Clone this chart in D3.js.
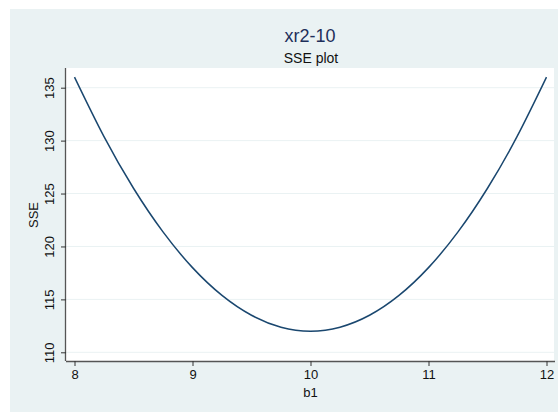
<!DOCTYPE html>
<html><head><meta charset="utf-8">
<script src="https://cdn.jsdelivr.net/npm/d3@7"></script>
<style>body{margin:0;background:#fff}svg{display:block}</style>
</head><body>
<svg id="c" width="558" height="412"></svg>
<script>
const b1 = [8, 8.25, 8.5, 8.75, 9, 9.25, 9.5, 9.75, 10, 10.25, 10.5, 10.75, 11, 11.25, 11.5, 11.75, 12];
const sse = [136, 130.375, 125.5, 121.375, 118, 115.375, 113.5, 112.375, 112, 112.375, 113.5, 115.375, 118, 121.375, 125.5, 130.375, 136];
const xTicks = [8, 9, 10, 11, 12];
const yTicks = [110, 115, 120, 125, 130, 135];
const title = "xr2-10", subtitle = "SSE plot", xTitle = "b1", yTitle = "SSE";

const svg = d3.select("#c");
svg.append("rect").attr("x", 10).attr("y", 9).attr("width", 560).attr("height", 410).attr("fill", "#EAF2F3");
const L = 66, R = 555, T = 68, B = 361;
svg.append("rect").attr("x", L).attr("y", T).attr("width", R - L).attr("height", B - T).attr("fill", "#fff");
svg.append("line").attr("x1", R - 0.5).attr("x2", R - 0.5).attr("y1", T).attr("y2", B).attr("stroke", "#EAF2F3");

const x = d3.scaleLinear().domain([8, 12]).range([74.5, 546.5]);
const y = d3.scaleLinear().domain([110, 135]).range([352.3, 87.7]);

svg.append("g").selectAll("line").data(yTicks).join("line")
  .attr("x1", L).attr("x2", R).attr("y1", d => y(d)).attr("y2", d => y(d))
  .attr("stroke", "#EAF2F3").attr("stroke-width", 1);

const font = "Arial, 'Liberation Sans', sans-serif";
const fs = 13;
const xa = svg.append("g").attr("transform", `translate(0,${B})`)
  .call(d3.axisBottom(x).tickValues(xTicks).tickSize(5).tickPadding(4).tickFormat(d3.format("d")));
xa.select(".domain").attr("d", `M${L},0.5H${R}`).attr("stroke", "#555").attr("stroke-width", 1.3);
xa.selectAll(".tick line").attr("stroke", "#333");
xa.selectAll("text").attr("font-family", font).attr("font-size", fs).attr("fill", "#111");

const ya = svg.append("g").attr("transform", `translate(${L},0)`)
  .call(d3.axisLeft(y).tickValues(yTicks).tickSize(5).tickPadding(3).tickFormat(d3.format("d")));
ya.select(".domain").attr("d", `M-0.5,${T}V${B}`).attr("stroke", "#555").attr("stroke-width", 1.3);
ya.selectAll(".tick line").attr("stroke", "#333");
ya.selectAll("text").attr("font-family", font).attr("font-size", fs).attr("fill", "#111")
  .attr("transform", "rotate(-90)").attr("text-anchor", "middle").attr("x", 0).attr("y", -12).attr("dy", 0);

const line = d3.line().x((d, i) => x(b1[i])).y(d => y(d)).curve(d3.curveNatural);
svg.append("path").datum(sse).attr("d", line).attr("fill", "none")
  .attr("stroke", "#1a476f").attr("stroke-width", 1.5);

svg.append("text").attr("x", 310).attr("y", 42).attr("text-anchor", "middle")
  .attr("font-family", font).attr("font-size", 18).attr("fill", "#1e2f5a").text(title);
svg.append("text").attr("x", 311).attr("y", 62.5).attr("text-anchor", "middle")
  .attr("font-family", font).attr("font-size", 14).attr("fill", "#111").text(subtitle);
svg.append("text").attr("x", 310.5).attr("y", 397).attr("text-anchor", "middle")
  .attr("font-family", font).attr("font-size", fs).attr("fill", "#111").text(xTitle);
svg.append("text").attr("transform", "translate(38,215) rotate(-90)").attr("text-anchor", "middle")
  .attr("font-family", font).attr("font-size", fs).attr("fill", "#111").text(yTitle);
</script>
</body></html>
